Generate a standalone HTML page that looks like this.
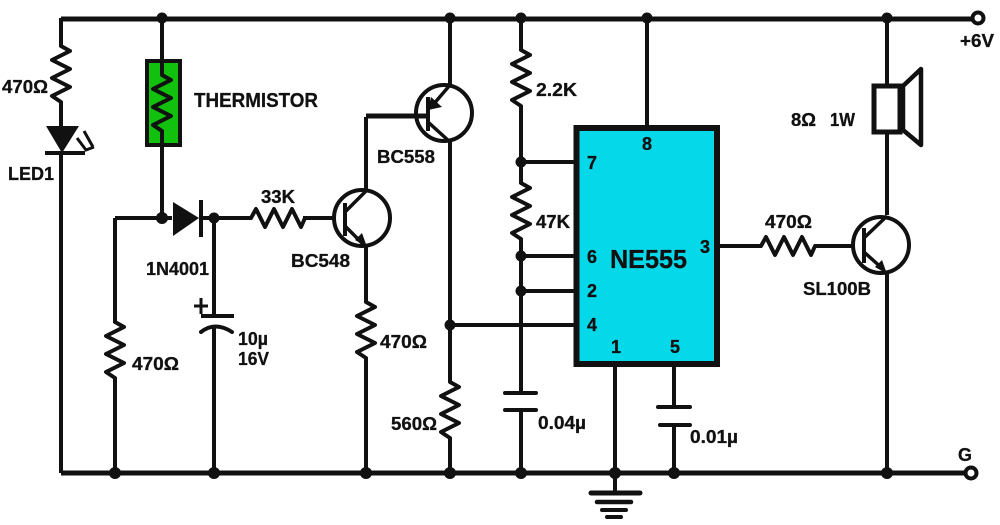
<!DOCTYPE html>
<html><head><meta charset="utf-8">
<style>
html,body{margin:0;padding:0;background:#fff}
svg{display:block}
text{font-family:"Liberation Sans",sans-serif;font-weight:bold;fill:#111;font-size:18px;stroke:#111;stroke-width:.3px}
</style></head>
<body>
<svg width="1000" height="525" viewBox="0 0 1000 525" xmlns="http://www.w3.org/2000/svg">
<defs>
<path id="rv" d="M0,0 L9,5 L-9,14 L9,23 L-9,32 L9,41 L-9,50 L0,56" fill="none" stroke="#111" stroke-width="4" stroke-linejoin="round" stroke-linecap="round"/>
<path id="rh" d="M0,0 L5,-9 L14,9 L23,-9 L32,9 L41,-9 L50,9 L54,0" fill="none" stroke="#111" stroke-width="4" stroke-linejoin="round" stroke-linecap="round"/>
</defs>
<rect width="1000" height="525" fill="#fff"/>

<!-- IC and thermistor fills -->
<rect x="576.500" y="128" width="140.500" height="236" fill="#05d8e8" stroke="#111" stroke-width="6"/>
<rect x="147" y="61" width="33" height="84" fill="#12c00e" stroke="#111" stroke-width="4"/>

<g fill="none" stroke="#111" stroke-width="4">
<!-- rails -->
<path d="M61,19 H972" stroke-width="5"/>
<path d="M61,473 H966" stroke-width="5"/>
<!-- LED branch -->
<path d="M61,18 V46 M61,102 V127 M61,152 V473"/>
<!-- thermistor branch -->
<path d="M162,18 V74 M162,130 V218"/>
<!-- left node -->
<path d="M115,218 H172 M115,218 V323 M115,378 V473"/>
<path d="M201,218 H251 M303,218 H335"/>
<path d="M214,218 V316 M214,327 V473"/>
<path d="M201,316 H234" stroke-width="4"/>
<path d="M201,332 Q215,321 232,332" stroke-linecap="round"/>
<path d="M194,306 H208 M201,298 V314" stroke-width="3"/>
<!-- BC548 -->
<circle cx="362" cy="218" r="28" stroke-width="4"/>
<path d="M366,117 V192 M366,244 V302 M366,358 V473"/>
<path d="M345,212 L366,191 M345,226 L364,245" stroke-width="3.500"/>
<path d="M345,203 V236" stroke-width="4"/>
<path d="M366,116 H427" stroke-width="5"/>
<!-- BC558 -->
<circle cx="444" cy="113" r="28" stroke-width="4"/>
<path d="M450,18 V85 M450,141 V382 M450,438 V473"/>
<path d="M428,97 V131" stroke-width="4"/>
<path d="M450,85 L432,106 M428,122 L450,142" stroke-width="3.500"/>
<path d="M450,325 H575" stroke-width="4"/>
<!-- divider -->
<path d="M521,18 V50 M521,106 V183 M521,239 V393 M521,410 V473"/>
<path d="M521,162 H575 M521,256 H575 M521,291 H575" stroke-width="4"/>
<path d="M505,393 H536 M505,410 H536" stroke-width="4" stroke-linecap="round"/>
<!-- IC pins -->
<path d="M647,18 V126"/>
<path d="M615,366 V493 M674,366 V407 M674,425 V473"/>
<path d="M658,407 H690 M660,425 H690" stroke-width="4" stroke-linecap="round"/>
<path d="M719,246 H761 M815,246 H852"/>
<!-- ground -->
<path d="M591,493 H640" stroke-width="5" stroke-linecap="round"/>
<path d="M597,502 H631" stroke-width="4.500" stroke-linecap="round"/>
<path d="M602,510 H626 M607,517 H621" stroke-width="4" stroke-linecap="round"/>
<!-- speaker -->
<path d="M887,18 V85 M887,133 V215 M887,272 V473"/>
<rect x="874" y="86" width="26" height="46" stroke-width="5"/>
<path d="M903,86 L921,69 V145 L903,130 Z" stroke-width="4.500" stroke-linejoin="round"/>
<!-- SL100B -->
<circle cx="881" cy="245" r="28" stroke-width="4"/>
<path d="M864,228 V263" stroke-width="4"/>
<path d="M864,238 L887,216 M864,252 L884,270" stroke-width="3.500"/>
<!-- LED arrows -->
<path d="M85,153 H45" stroke-width="4"/>
<path d="M77,138 L86,150 L94,147 M84,131 L93,147" stroke-width="3"/>
</g>

<!-- resistors -->
<use href="#rv" x="61" y="46"/>
<use href="#rv" x="162" y="75"/>
<use href="#rv" x="115" y="322"/>
<use href="#rv" x="366" y="302"/>
<use href="#rv" x="450" y="382"/>
<use href="#rv" x="521" y="50"/>
<use href="#rv" x="521" y="183"/>
<use href="#rh" x="251" y="218"/>
<use href="#rh" x="761" y="246"/>

<!-- solid parts -->
<g fill="#111">
<polygon points="46,126 79,126 62,153"/>
<polygon points="173,202 173,236 199,218"/>
<rect x="199" y="200" width="4" height="37"/>
<polygon points="367,247 355,240 362,233"/>
<polygon points="428,110 431,97 442,107"/>
<polygon points="887,274 875,267 882,260"/>
<circle cx="162" cy="18" r="5.500"/><circle cx="450" cy="18" r="5.500"/><circle cx="521" cy="18" r="5.500"/><circle cx="647" cy="18" r="5.500"/><circle cx="887" cy="18" r="5.500"/>
<circle cx="162" cy="218" r="6"/><circle cx="214" cy="218" r="5.500"/>
<circle cx="521" cy="162" r="5.500"/><circle cx="521" cy="256" r="5.500"/><circle cx="521" cy="291" r="5.500"/><circle cx="450" cy="325" r="5.500"/>
<circle cx="115" cy="473" r="6"/><circle cx="214" cy="473" r="6"/><circle cx="366" cy="473" r="6"/><circle cx="450" cy="473" r="6"/><circle cx="521" cy="473" r="6"/><circle cx="615" cy="473" r="6"/><circle cx="674" cy="473" r="6"/><circle cx="887" cy="473" r="6"/>
</g>
<circle cx="978" cy="18" r="5.500" fill="#fff" stroke="#111" stroke-width="4"/>
<circle cx="971" cy="473" r="5.500" fill="#fff" stroke="#111" stroke-width="4"/>

<!-- labels -->
<text x="2" y="93" textLength="46" lengthAdjust="spacingAndGlyphs">470Ω</text>
<text x="194" y="107" textLength="124" lengthAdjust="spacingAndGlyphs" style="font-size:20px">THERMISTOR</text>
<text x="8" y="180" textLength="46" lengthAdjust="spacingAndGlyphs">LED1</text>
<text x="261" y="203" textLength="34" lengthAdjust="spacingAndGlyphs">33K</text>
<text x="146" y="275" textLength="63" lengthAdjust="spacingAndGlyphs">1N4001</text>
<text x="291" y="267" textLength="59" lengthAdjust="spacingAndGlyphs">BC548</text>
<text x="377" y="163" textLength="58" lengthAdjust="spacingAndGlyphs">BC558</text>
<text x="536" y="96" textLength="41" lengthAdjust="spacingAndGlyphs">2.2K</text>
<text x="536" y="228" textLength="34" lengthAdjust="spacingAndGlyphs">47K</text>
<text x="132" y="370" textLength="47" lengthAdjust="spacingAndGlyphs">470Ω</text>
<text x="238" y="345" textLength="30" lengthAdjust="spacingAndGlyphs">10µ</text>
<text x="238" y="365" textLength="31" lengthAdjust="spacingAndGlyphs">16V</text>
<text x="380" y="348" textLength="47" lengthAdjust="spacingAndGlyphs">470Ω</text>
<text x="391" y="430" textLength="46" lengthAdjust="spacingAndGlyphs">560Ω</text>
<text x="538" y="429" textLength="48" lengthAdjust="spacingAndGlyphs">0.04µ</text>
<text x="690" y="443" textLength="48" lengthAdjust="spacingAndGlyphs">0.01µ</text>
<text x="587" y="169">7</text>
<text x="642" y="150">8</text>
<text x="587" y="263">6</text>
<text x="587" y="297">2</text>
<text x="587" y="331">4</text>
<text x="611" y="353">1</text>
<text x="670" y="353">5</text>
<text x="700" y="253">3</text>
<text x="610" y="268" textLength="77" lengthAdjust="spacingAndGlyphs" style="font-size:26px">NE555</text>
<text x="791" y="126" textLength="25" lengthAdjust="spacingAndGlyphs">8Ω</text>
<text x="830" y="126" textLength="25" lengthAdjust="spacingAndGlyphs">1W</text>
<text x="765" y="228" textLength="47" lengthAdjust="spacingAndGlyphs">470Ω</text>
<text x="803" y="295" textLength="68" lengthAdjust="spacingAndGlyphs">SL100B</text>
<text x="960" y="47" textLength="34" lengthAdjust="spacingAndGlyphs">+6V</text>
<text x="958" y="461" textLength="14" lengthAdjust="spacingAndGlyphs">G</text>
</svg>
</body></html>
